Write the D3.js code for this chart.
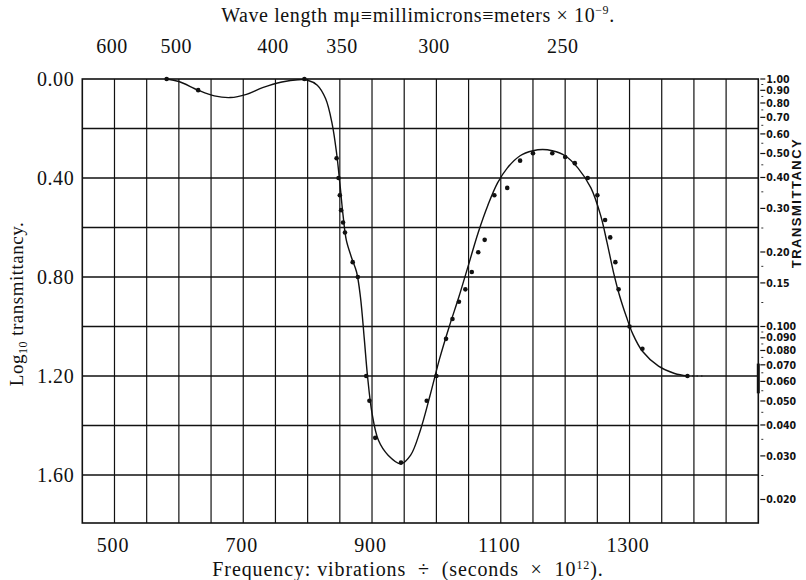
<!DOCTYPE html>
<html><head><meta charset="utf-8">
<script src="https://cdn.jsdelivr.net/npm/d3@7"></script>
<style>
html,body{margin:0;padding:0;background:#fff;}
svg{display:block;}
</style></head>
<body>
<svg id="chart" width="806" height="580"></svg>
<script>
// ---------------- DATA ----------------
const freqTicks = [500, 700, 900, 1100, 1300];
const logTicks = [0.0, 0.4, 0.8, 1.2, 1.6];
const waveLabels = [600, 500, 400, 350, 300, 250];
const transLabels = ["1.00","0.90","0.80","0.70","0.60","0.50","0.40","0.30","0.20","0.15","0.100","0.090","0.080","0.070","0.060","0.050","0.040","0.030","0.020"];
const transMinor = [0.95,0.85,0.75,0.65,0.55,0.45,0.35,0.25,0.175,0.125,0.095,0.085,0.075,0.065,0.055,0.045,0.035,0.025];
// smooth curve: frequency (10^12/s) vs log10 transmittancy (plotted downward)
const curveFreq = [581,600,630,655,680,705,730,760,785,800,815,828,838,845,850,855,860,868,876,882,888,893,900,910,925,945,960,975,990,1005,1020,1035,1050,1065,1080,1095,1110,1130,1150,1165,1180,1200,1220,1240,1255,1265,1275,1285,1295,1305,1320,1345,1370,1390];
const curveLog  = [0.0,0.01,0.045,0.068,0.075,0.062,0.035,0.012,0.003,0.005,0.025,0.08,0.18,0.30,0.42,0.55,0.65,0.72,0.78,0.88,1.05,1.20,1.35,1.46,1.52,1.555,1.52,1.42,1.28,1.13,1.00,0.88,0.75,0.62,0.51,0.42,0.36,0.31,0.29,0.285,0.29,0.31,0.36,0.44,0.55,0.66,0.78,0.88,0.96,1.03,1.10,1.16,1.19,1.20];
// measured points
const dotFreq = [581,630,795,845,848,850,852,855,858,870,878,891,896,905,945,985,1000,1015,1025,1035,1045,1055,1065,1075,1090,1110,1130,1150,1180,1200,1215,1235,1250,1262,1270,1278,1283,1300,1320,1390];
const dotLog  = [0.0,0.045,0.0,0.32,0.40,0.47,0.53,0.58,0.62,0.74,0.80,1.20,1.30,1.45,1.55,1.30,1.20,1.05,0.97,0.90,0.85,0.78,0.70,0.65,0.47,0.44,0.33,0.30,0.30,0.315,0.34,0.40,0.47,0.57,0.64,0.74,0.85,1.00,1.09,1.20];
const tailFreq = [1390, 1415];
const tailLog = [1.20, 1.20];
const edgeMarkLog = [1.15, 1.27];

// ---------------- LAYOUT ----------------
const svg = d3.select("#chart");
const L = 82.3, R = 758.3, T = 79, B = 523;
const x = d3.scaleLinear().domain([450, 1500]).range([L, R]);
const y = d3.scaleLinear().domain([0, 1.794]).range([T, B]);
const serif = "'Liberation Serif','DejaVu Serif',serif";
const sans = "'Liberation Sans Narrow','DejaVu Sans Condensed','Liberation Sans',sans-serif";

// grid
const g = svg.append("g");
const vGrid = d3.range(500, 1500, 50);
g.selectAll("line.v").data(vGrid).join("line")
  .attr("x1", d => x(d)).attr("x2", d => x(d))
  .attr("y1", T).attr("y2", B)
  .attr("stroke", "#111").attr("stroke-width", 1.2);
const hGrid = d3.range(0.2, 1.7, 0.2);
g.selectAll("line.h").data(hGrid).join("line")
  .attr("x1", L).attr("x2", R)
  .attr("y1", d => y(d)).attr("y2", d => y(d))
  .attr("stroke", "#111").attr("stroke-width", 1.4);
g.append("rect").attr("x", L).attr("y", T).attr("width", R - L).attr("height", B - T)
  .attr("fill", "none").attr("stroke", "#111").attr("stroke-width", 1.6);

// bottom axis
const bottomAxis = svg.append("g").attr("transform", `translate(-2,${B})`)
  .call(d3.axisBottom(x).tickValues(freqTicks).tickSize(0).tickPadding(15).tickFormat(d3.format("d")));
bottomAxis.select(".domain").remove();
bottomAxis.selectAll("text").attr("font-family", serif).attr("font-size", 20)
  .attr("letter-spacing", 0.8).attr("fill", "#111");

// left axis
const leftAxis = svg.append("g").attr("transform", `translate(${L - 8},0)`)
  .call(d3.axisLeft(y).tickValues(logTicks).tickSize(0).tickPadding(0).tickFormat(d3.format(".2f")));
leftAxis.select(".domain").remove();
leftAxis.selectAll("text").attr("font-family", serif).attr("font-size", 20)
  .attr("letter-spacing", 0.6).attr("fill", "#111");

// top axis (wavelength) : nu = 300000 / lambda
const topAxis = svg.append("g").attr("transform", `translate(-3,${T})`)
  .call(d3.axisTop(x).tickValues(waveLabels.map(l => 300000 / l)).tickSize(0).tickPadding(26)
    .tickFormat((d, i) => waveLabels[i]));
topAxis.select(".domain").remove();
topAxis.selectAll("text").attr("font-family", serif).attr("font-size", 20)
  .attr("letter-spacing", 0.5).attr("fill", "#111");

// right transmittancy axis
const rg = svg.append("g");
const tVal = transLabels.map(s => +s);
rg.selectAll("line.maj").data(tVal).join("line")
  .attr("x1", R + 2).attr("x2", R + 7)
  .attr("y1", d => y(-Math.log10(d))).attr("y2", d => y(-Math.log10(d)))
  .attr("stroke", "#111").attr("stroke-width", 1.2);
rg.selectAll("line.min").data(transMinor).join("line")
  .attr("x1", R + 3).attr("x2", R + 5)
  .attr("y1", d => y(-Math.log10(d))).attr("y2", d => y(-Math.log10(d)))
  .attr("stroke", "#333").attr("stroke-width", 1);
rg.selectAll("text").data(transLabels).join("text")
  .attr("x", R + 8).attr("y", d => y(-Math.log10(+d)))
  .attr("dy", "0.35em").attr("font-family", sans).attr("font-weight", "bold")
  .attr("font-size", 10.5).attr("fill", "#111").text(d => d);
svg.append("text").attr("transform", "translate(801,203) rotate(-90)")
  .attr("text-anchor", "middle").attr("font-family", "'Liberation Sans','DejaVu Sans',sans-serif")
  .attr("font-weight", "bold").attr("font-size", 13).attr("letter-spacing", 1.5).attr("fill", "#111")
  .text("TRANSMITTANCY");

// curve
const line = d3.line().x(d => x(d[0])).y(d => y(d[1])).curve(d3.curveCatmullRom.alpha(0.5));
svg.append("path").datum(d3.zip(curveFreq, curveLog)).attr("d", line)
  .attr("fill", "none").attr("stroke", "#111").attr("stroke-width", 1.4);
svg.append("path").datum(d3.zip(tailFreq, tailLog)).attr("d", d3.line().x(d => x(d[0])).y(d => y(d[1])))
  .attr("fill", "none").attr("stroke", "#111").attr("stroke-width", 1.2).attr("stroke-dasharray", "1.5,3");
svg.selectAll("circle.pt").data(d3.zip(dotFreq, dotLog)).join("circle")
  .attr("cx", d => x(d[0])).attr("cy", d => y(d[1])).attr("r", 2.3).attr("fill", "#111");
svg.append("line").attr("x1", R).attr("x2", R)
  .attr("y1", y(edgeMarkLog[0])).attr("y2", y(edgeMarkLog[1]))
  .attr("stroke", "#111").attr("stroke-width", 3);

// titles
const tt = svg.append("text").attr("x", 418).attr("y", 22).attr("text-anchor", "middle")
  .attr("font-family", serif).attr("font-size", 20).attr("letter-spacing", 0.6).attr("fill", "#111");
tt.append("tspan").text("Wave length m\u03bc\u2261millimicrons\u2261meters \u00d7 10");
tt.append("tspan").attr("dy", -8).attr("font-size", 12).text("\u22129");
tt.append("tspan").attr("dy", 8).text(".");

const bt = svg.append("text").attr("x", 408).attr("y", 576).attr("text-anchor", "middle")
  .attr("font-family", serif).attr("font-size", 20).attr("letter-spacing", 0.9).attr("fill", "#111");
bt.append("tspan").text("Frequency: vibrations \u00a0\u00f7\u00a0 (seconds \u00a0\u00d7\u00a0 10");
bt.append("tspan").attr("dy", -7).attr("font-size", 12).text("12");
bt.append("tspan").attr("dy", 7).text(").");

const yt = svg.append("text").attr("transform", "translate(23,304) rotate(-90)")
  .attr("text-anchor", "middle").attr("font-family", serif).attr("font-size", 19)
  .attr("letter-spacing", 0.5).attr("fill", "#111");
yt.append("tspan").text("Log");
yt.append("tspan").attr("dy", 4).attr("font-size", 12).text("10");
yt.append("tspan").attr("dy", -4).text(" transmittancy.");
</script>
</body></html>
